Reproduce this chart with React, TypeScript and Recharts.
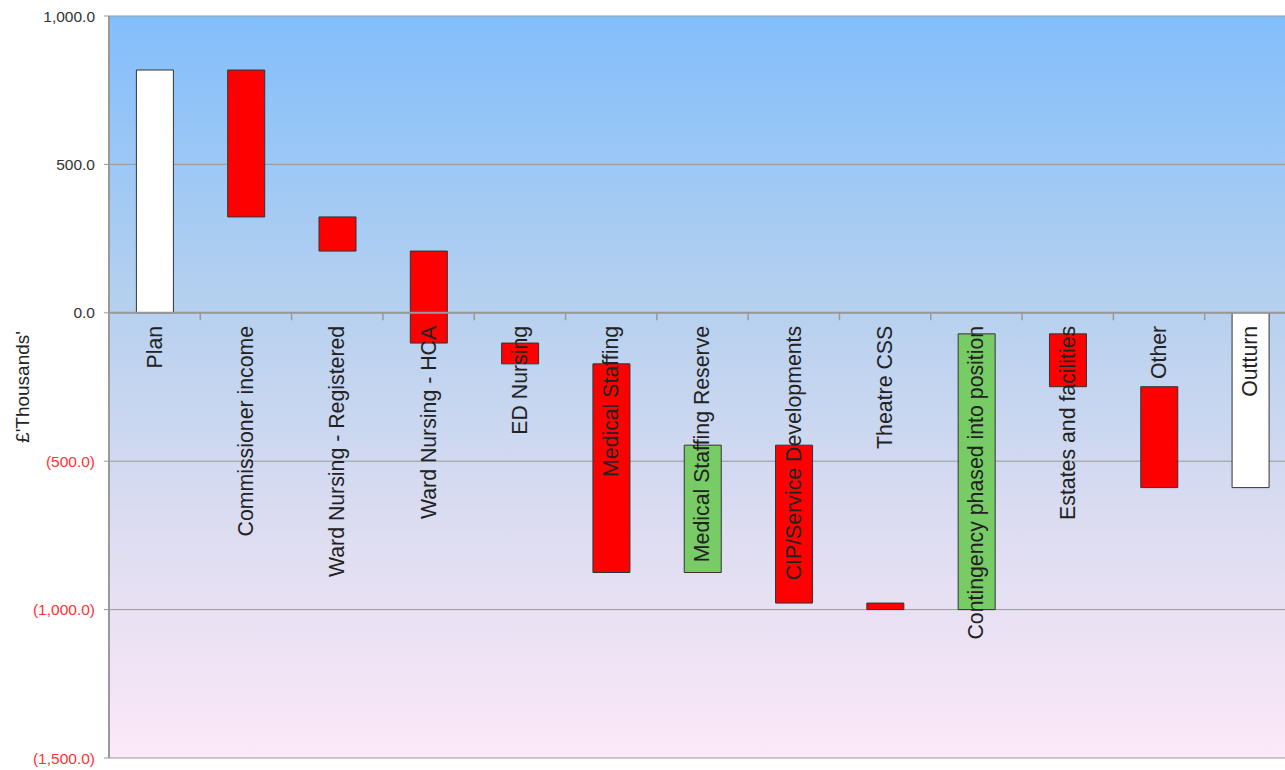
import { BarChart, Bar, Cell, XAxis, YAxis, CartesianGrid, ReferenceLine, ReferenceDot } from "recharts";

const categories = [
  "Plan",
  "Commissioner income",
  "Ward Nursing - Registered",
  "Ward Nursing - HCA",
  "ED Nursing",
  "Medical Staffing",
  "Medical Staffing Reserve",
  "CIP/Service Developments",
  "Theatre CSS",
  "Contingency phased into position",
  "Estates and facilities",
  "Other",
  "Outturn",
];

// £'000
const plan = 818;
const changes = [-495, -115, -310, -70, -703, 429, -532, -22, 929, -178, -340];
const yTicks = [1000, 500, 0, -500, -1000, -1500];

const RED = "#FF0000";
const GREEN = "#77CC66";
const FONT = "'Liberation Sans', Arial, sans-serif";

// build waterfall ranges; pos = centre of each category slot on a 0..13 scale
let level = plan;
const data = [{ name: categories[0], range: [0, plan], fill: "#FFFFFF", pos: 0.5 }];
changes.forEach((c, i) => {
  const next = level + c;
  data.push({
    name: categories[i + 1],
    range: [Math.min(level, next), Math.max(level, next)],
    fill: c < 0 ? RED : GREEN,
    pos: i + 1.5,
  });
  level = next;
});
data.push({ name: categories[12], range: [Math.min(0, level), Math.max(0, level)], fill: "#FFFFFF", pos: 12.5 });

function fmt(n: number) {
  return n.toLocaleString("en-US", { minimumFractionDigits: 1, maximumFractionDigits: 1 });
}

function YTick({ x, y, payload }: any) {
  const v = payload.value as number;
  return (
    <text x={x} y={y} textAnchor="end" dominantBaseline="central" fontSize={15.5} fontFamily={FONT}
      fill={v < 0 ? "#FF3333" : "#333333"}>
      {v < 0 ? `(${fmt(-v)})` : fmt(v)}
    </text>
  );
}

function CatLabel(name: string) {
  return (p: any) => {
    const x = p.cx;
    const y = p.cy + 13;
    return (
      <text x={x} y={y} transform={`rotate(-90 ${x} ${y})`} textAnchor="end" dominantBaseline="central"
        fontSize={21.3} fontFamily={FONT} fill="#222222">
        {name}
      </text>
    );
  };
}

export default function App() {
  return (
    <div style={{ width: 1285, height: 770, overflow: "hidden" }}>
      <style>{"body{margin:0}"}</style>
      {/* plot runs past the right edge, as in the original */}
      <BarChart width={1296} height={770} data={data} margin={{ top: 16, right: 0, bottom: 12, left: 0 }}
        barCategoryGap="30%">
        <defs>
          <linearGradient id="bg" x1="0" y1="0" x2="0" y2="1">
            <stop offset="0%" stopColor="#82BEFC" />
            <stop offset="40%" stopColor="#B7D1EF" />
            <stop offset="70%" stopColor="#DEDDF1" />
            <stop offset="100%" stopColor="#FCE8F8" />
          </linearGradient>
        </defs>
        <CartesianGrid vertical={false} stroke="#999999" fill="url(#bg)" fillOpacity={1} />
        <XAxis dataKey="name" hide />
        <XAxis xAxisId="num" dataKey="pos" type="number" domain={[0, 13]} ticks={[0, 13]} allowDataOverflow hide />
        <YAxis
          domain={[-1500, 1000]}
          ticks={yTicks}
          width={109}
          tick={<YTick />}
          tickSize={5}
          tickMargin={9}
          axisLine={{ stroke: "#999999", strokeWidth: 2 }}
          tickLine={{ stroke: "#999999" }}
          label={{
            content: ({ viewBox }: any) => {
              const cx = 22;
              const cy = viewBox.y + viewBox.height / 2;
              return (
                <text x={cx} y={cy} transform={`rotate(-90 ${cx} ${cy})`} textAnchor="middle"
                  dominantBaseline="central" fontSize={19} fontFamily={FONT} fill="#222222">
                  £'Thousands'
                </text>
              );
            },
          }}
        />
        <ReferenceLine y={0} stroke="#999999" strokeWidth={2} />
        {categories.slice(1).map((c, i) => (
          <ReferenceLine key={c} xAxisId="num" segment={[{ x: i + 1, y: 0 }, { x: i + 1, y: -25 }]}
            stroke="#999999" strokeWidth={1.5} />
        ))}
        <Bar dataKey="range" stroke="#333333" strokeWidth={1} isAnimationActive={false}>
          {data.map((d, i) => (
            <Cell key={i} fill={d.fill} />
          ))}
        </Bar>
        {categories.map((c) => (
          <ReferenceDot key={c} x={c} y={0} r={0} shape={CatLabel(c)} ifOverflow="visible" />
        ))}
      </BarChart>
    </div>
  );
}
